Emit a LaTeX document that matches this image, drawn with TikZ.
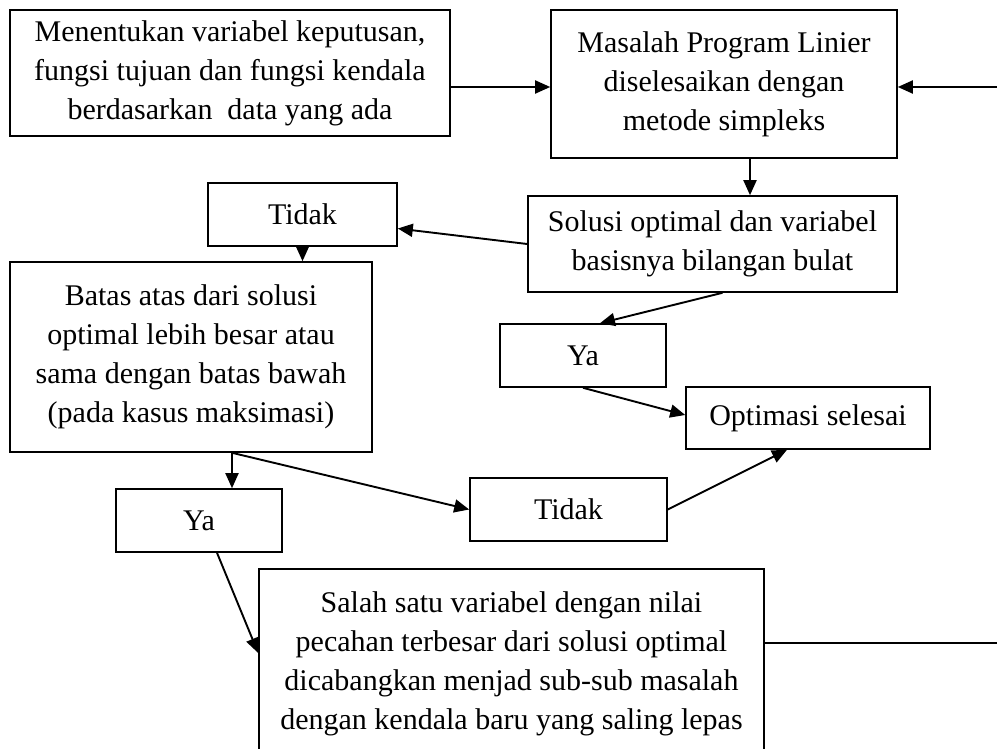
\documentclass[tikz,border=0pt]{standalone}
\usepackage{fontspec}
\setmainfont{Liberation Serif}
\usetikzlibrary{arrows.meta}

\begin{document}
\begin{tikzpicture}[x=1pt, y=-1pt,
    box/.style={draw, line width=1.6pt, rectangle, inner sep=0pt, align=center},
    arr/.style={line width=1.9pt, -{Triangle[length=15pt,width=13pt]}},
    font=\fontsize{30}{39}\selectfont]
    \clip (0,0) rectangle (997,749);

    % Top row
    \node[box, minimum width=440, minimum height=126] (model) at (230,73)
        {Menentukan variabel keputusan,\\ fungsi tujuan dan fungsi kendala\\ berdasarkan\ \ data yang ada};
    \node[box, minimum width=346, minimum height=148] (simpleks) at (724,84)
        {Masalah Program Linier\\ diselesaikan dengan\\ metode simpleks};

    % Integer check
    \node[box, minimum width=369, minimum height=96] (bulat) at (712.5,244)
        {Solusi optimal dan variabel\\ basisnya bilangan bulat};
    \node[box, minimum width=189, minimum height=63] (tidakA) at (302.5,214.5) {Tidak};
    \node[box, minimum width=166, minimum height=63] (yaA) at (583,355.5) {Ya};
    \node[box, minimum width=244, minimum height=62] (selesai) at (808,418) {Optimasi selesai};

    % Bound check
    \node[box, minimum width=362, minimum height=190] (batas) at (191,357)
        {Batas atas dari solusi\\ optimal lebih besar atau\\ sama dengan batas bawah\\ (pada kasus maksimasi)};
    \node[box, minimum width=166, minimum height=63] (yaB) at (199,520.5) {Ya};
    \node[box, minimum width=197, minimum height=63] (tidakB) at (568.5,509.5) {Tidak};

    % Branching
    \node[box, minimum width=505, minimum height=190] (cabang) at (511.5,664)
        {Salah satu variabel dengan nilai\\ pecahan terbesar dari solusi optimal\\ dicabangkan menjad sub-sub masalah\\ dengan kendala baru yang saling lepas};

    % Loop ends
    \coordinate (loopin) at (997,87);
    \coordinate (loopout) at (997,643);
    \coordinate (split) at ([xshift=41pt]batas.south);

    % Arrows
    \draw[arr] (model.east |- loopin) -- (simpleks.west |- loopin);
    \draw[arr] (loopin) -- (loopin -| simpleks.east);
    \draw[arr] ([xshift=26pt]simpleks.south) -- ([xshift=26pt]simpleks.south |- bulat.north);
    \draw[arr] (bulat.west) -- ([yshift=-14pt]tidakA.east);
    \draw[arr] (tidakA.south) -- (tidakA.south |- batas.north);
    \draw[arr] ([xshift=10pt]bulat.south) -- ([xshift=17pt]yaA.north);
    \draw[arr] (yaA.south) -- ([yshift=3pt]selesai.west);
    \draw[arr] (tidakB.east) -- ([xshift=-21pt]selesai.south);
    \draw[arr] (split) -- (split |- yaB.north);
    \draw[arr] (split) -- (tidakB.west);
    \draw[arr] ([xshift=18pt]yaB.south) -- ([yshift=11pt]cabang.west);
    \draw[line width=1.9pt] (cabang.east |- loopout) -- (loopout);
\end{tikzpicture}
\end{document}
